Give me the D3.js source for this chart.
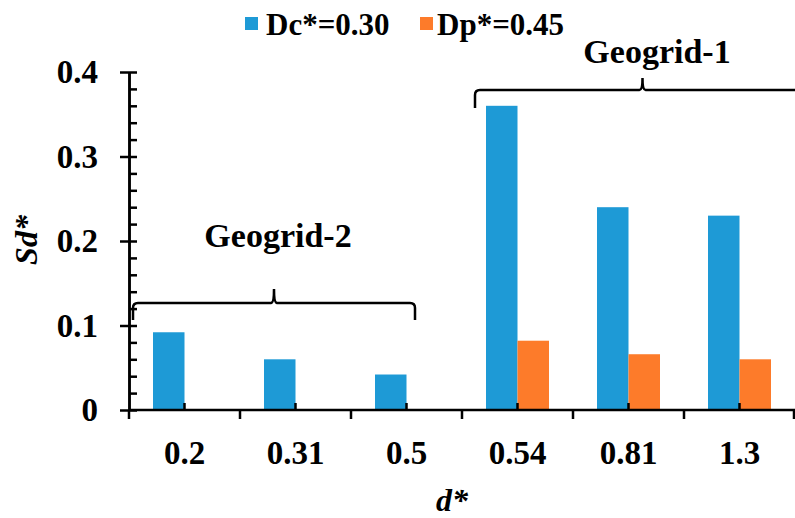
<!DOCTYPE html>
<html>
<head>
<meta charset="utf-8">
<script src="https://cdn.jsdelivr.net/npm/d3@7/dist/d3.min.js"></script>
<style>
  html, body { margin: 0; padding: 0; background: #fff; }
  svg { display: block; }
</style>
</head>
<body>
<svg id="chart" width="795" height="518" font-family="Liberation Serif" font-weight="bold"></svg>
<script>
// d* categories and Sd* values for the two series
const categories = ["0.2", "0.31", "0.5", "0.54", "0.81", "1.3"];
const seriesNames = ["Dc*=0.30", "Dp*=0.45"];
const dcValues = [0.092, 0.060, 0.042, 0.36, 0.24, 0.23];
const dpValues = [null, null, null, 0.082, 0.066, 0.060];
const yTicks = [0, 0.1, 0.2, 0.3, 0.4];
const yTickLabels = ["0", "0.1", "0.2", "0.3", "0.4"];
const groups = [
  { name: "Geogrid-2", from: "0.2", to: "0.5" },
  { name: "Geogrid-1", from: "0.54", to: "1.3" }
];
const colors = ["#1e9ad6", "#fd7b2a"];

const txt = (sel, size, italic) => sel
  .attr("font-family", "Liberation Serif").attr("font-weight", "bold")
  .attr("font-size", size).attr("font-style", italic ? "italic" : "normal")
  .attr("fill", "#000");

const svg = d3.select("#chart");
const plotLeft = 129, plotRight = 795, plotTop = 72, plotBottom = 410;

const x = d3.scaleBand().domain(categories).range([plotLeft, plotRight]).padding(0);
const bw = x.bandwidth();
const barW = 31.5;
const xs = d3.scaleBand().domain(seriesNames).range([bw / 2 - barW, bw / 2 + barW]).padding(0);
const y = d3.scaleLinear().domain([0, 0.4]).range([plotBottom, plotTop]);

const rows = categories.map((c, i) => ({ c, vals: [dcValues[i], dpValues[i]] }));

// bars
const g = svg.append("g");
rows.forEach(r => {
  r.vals.forEach((v, k) => {
    if (v == null) return;
    g.append("rect")
      .attr("x", x(r.c) + xs(seriesNames[k]))
      .attr("y", y(v))
      .attr("width", xs.bandwidth())
      .attr("height", y(0) - y(v))
      .attr("fill", colors[k]);
  });
});

const axisStyle = sel => {
  sel.attr("font-family", "Liberation Serif").attr("font-weight", "bold");
  sel.selectAll(".domain").attr("stroke", "#000").attr("stroke-width", 2.5);
  sel.selectAll(".tick line").attr("stroke", "#000").attr("stroke-width", 2.5);
};

// y axis: minor ticks inside, major ticks crossing the line
const minorTicks = d3.range(0, 0.4001, 0.02);
svg.append("g").attr("transform", `translate(${plotLeft},0)`)
  .call(d3.axisRight(y).tickValues(minorTicks).tickSize(8).tickFormat("").tickSizeOuter(0))
  .call(axisStyle);
svg.append("g").attr("transform", `translate(${plotLeft},0)`)
  .call(d3.axisLeft(y).tickValues(yTicks).tickSize(9).tickPadding(22).tickSizeOuter(0)
    .tickFormat((d, i) => yTickLabels[i]))
  .call(axisStyle)
  .attr("font-size", 33)
  .call(s => s.selectAll(".tick text").call(txt, 33).attr("dy", "0.33em"));

// x axis: labels under category centres, centre ticks pointing up
svg.append("g").attr("transform", `translate(0,${plotBottom})`)
  .call(d3.axisTop(x).tickSize(7).tickFormat("").tickSizeOuter(0))
  .call(axisStyle)
  .call(s => s.select(".domain").remove());
svg.append("g").attr("transform", `translate(0,${plotBottom})`)
  .call(d3.axisBottom(x).tickSize(0).tickPadding(31).tickSizeOuter(0))
  .call(axisStyle)
  .attr("font-size", 33)
  .call(s => s.selectAll(".tick text").call(txt, 33).attr("dy", "0.71em"))
  .call(s => s.select(".domain").attr("d", `M${plotLeft},0H${plotRight}`));
// category boundary ticks pointing down
const bounds = categories.map(c => x(c)).concat([x.range()[1] - 1]);
svg.append("g").selectAll("line").data(bounds).join("line")
  .attr("x1", d => d).attr("x2", d => d)
  .attr("y1", plotBottom).attr("y2", plotBottom + 9)
  .attr("stroke", "#000").attr("stroke-width", 2.5);

// axis titles
svg.append("text")
  .attr("transform", `translate(37,240) rotate(-90)`)
  .attr("text-anchor", "middle")
  .call(txt, 32, true)
  .text("Sd*");
svg.append("text")
  .attr("x", 452).attr("y", 511)
  .attr("text-anchor", "middle")
  .call(txt, 32, true)
  .text("d*");

// legend
const legend = [
  { sx: 245, tx: 266 },
  { sx: 420, tx: 437 }
];
legend.forEach((p, k) => {
  svg.append("rect").attr("x", p.sx).attr("y", 17).attr("width", 13).attr("height", 13).attr("fill", colors[k]);
  svg.append("text").attr("x", p.tx).attr("y", 35).call(txt, 31).text(seriesNames[k]);
});

// group brackets
function bracket(x0, x1, yb, drop, rise) {
  const xc = (x0 + x1) / 2, r = 5;
  return `M${x0},${yb + drop} L${x0},${yb + r} Q${x0},${yb} ${x0 + r},${yb} L${xc - 3},${yb} Q${xc},${yb} ${xc},${yb - rise}` +
         ` Q${xc},${yb} ${xc + 3},${yb} L${x1 - r},${yb} Q${x1},${yb} ${x1},${yb + r} L${x1},${yb + drop}`;
}
const brackets = [
  { x0: x(groups[0].from) + 4, x1: x(groups[0].to) + bw / 2 + 8.5, yb: 303, drop: 17, rise: 14, ty: 247, tx: 278 },
  { x0: x(groups[1].from) + 13, x1: x(groups[1].to) + bw + 15, yb: 90, drop: 18, rise: 12, ty: 63, tx: 657 }
];
brackets.forEach((b, i) => {
  svg.append("path").attr("d", bracket(b.x0, b.x1, b.yb, b.drop, b.rise))
    .attr("fill", "none").attr("stroke", "#000").attr("stroke-width", 2.5);
  svg.append("text").attr("x", b.tx).attr("y", b.ty).attr("text-anchor", "middle")
    .call(txt, 34).text(groups[i].name);
});
</script>
</body>
</html>
